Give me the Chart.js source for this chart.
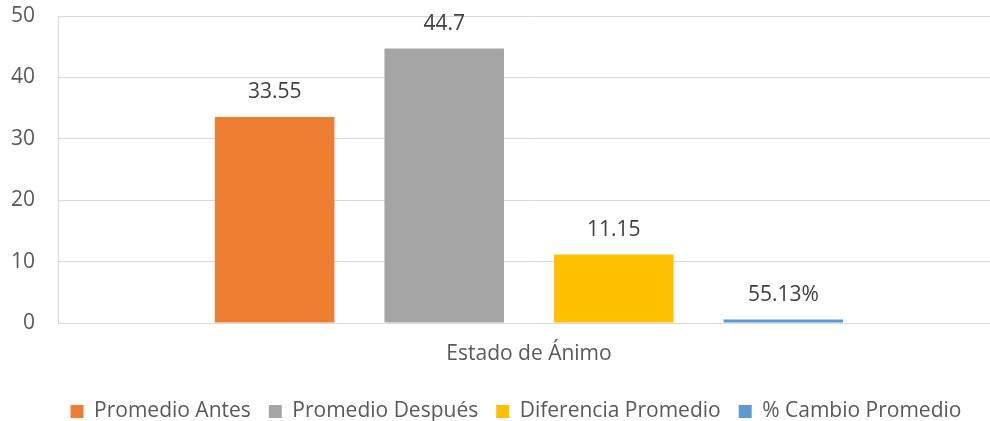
<!DOCTYPE html>
<html>
<head>
<meta charset="utf-8">
<script src="https://cdn.jsdelivr.net/npm/chart.js@4/dist/chart.umd.min.js"></script>
<style>
  html, body { margin: 0; padding: 0; background: #fff; overflow: hidden; }
  #wrap { position: relative; width: 1000px; height: 432px; }
</style>
</head>
<body>
<div id="wrap"><canvas id="c"></canvas></div>
<script>
const categories = ['Estado de Ánimo'];
const seriesNames = ['Promedio Antes', 'Promedio Después', 'Diferencia Promedio', '% Cambio Promedio'];
const seriesValues = [33.55, 44.7, 11.15, 0.5513];
const valueLabels = ['33.55', '44.7', '11.15', '55.13%'];
const seriesColors = ['#ED7D31', '#A5A5A5', '#FFC000', '#5B9BD5'];
const yTicks = [0, 10, 20, 30, 40, 50];

const FONT = "'Open Sans', sans-serif";
const TEXT = '#595959';
const FS = 21;

const valueLabelPlugin = {
  id: 'valueLabels',
  afterLayout(chart) {
    // widen the y-axis label clip area to the canvas edge so tick labels are not cut
    chart.scales.y.left = 0;
  },
  afterDatasetsDraw(chart) {
    const ctx = chart.ctx;
    ctx.save();
    ctx.font = FS + 'px ' + FONT;
    ctx.fillStyle = '#404040';
    ctx.textAlign = 'center';
    ctx.textBaseline = 'middle';
    chart.data.datasets.forEach((ds, i) => {
      const meta = chart.getDatasetMeta(i);
      meta.data.forEach((bar) => {
        ctx.fillText(valueLabels[i], bar.x, bar.y - 25);
      });
    });
    ctx.restore();
  }
};

new Chart(document.getElementById('c'), {
  type: 'bar',
  data: {
    labels: categories,
    datasets: seriesNames.map((name, i) => ({
      label: name,
      data: [seriesValues[i]],
      backgroundColor: seriesColors[i],
      borderWidth: 0
    }))
  },
  options: {
    responsive: true,
    maintainAspectRatio: false,
    animation: false,
    layout: { padding: { top: 16, left: 32, right: 0, bottom: 0 } },
    datasets: { bar: { categoryPercentage: 0.72, barPercentage: 0.705 } },
    scales: {
      x: {
        grid: { display: false, drawTicks: false },
        border: { display: false },
        ticks: { color: TEXT, font: { family: FONT, size: FS }, padding: 18 },
        afterFit(scale) { scale.height = 60; scale.paddingLeft = 0; scale.paddingRight = 0; }
      },
      y: {
        min: 0, max: 50,
        afterBuildTicks(scale) { scale.ticks = yTicks.map(v => ({ value: v })); },
        grid: { color: '#D9D9D9', lineWidth: 1, drawTicks: false },
        border: { display: true, color: '#D9D9D9', width: 1 },
        ticks: { color: TEXT, font: { family: FONT, size: FS }, padding: 23 },
        afterFit(scale) { scale.width = 26; scale.paddingTop = 0; scale.paddingBottom = 0; }
      }
    },
    plugins: {
      legend: {
        position: 'bottom',
        labels: {
          color: TEXT,
          font: { family: FONT, size: FS },
          boxWidth: 13, boxHeight: 13,
          padding: 18
        }
      },
      tooltip: { enabled: false }
    }
  },
  plugins: [valueLabelPlugin]
});
</script>
</body>
</html>
